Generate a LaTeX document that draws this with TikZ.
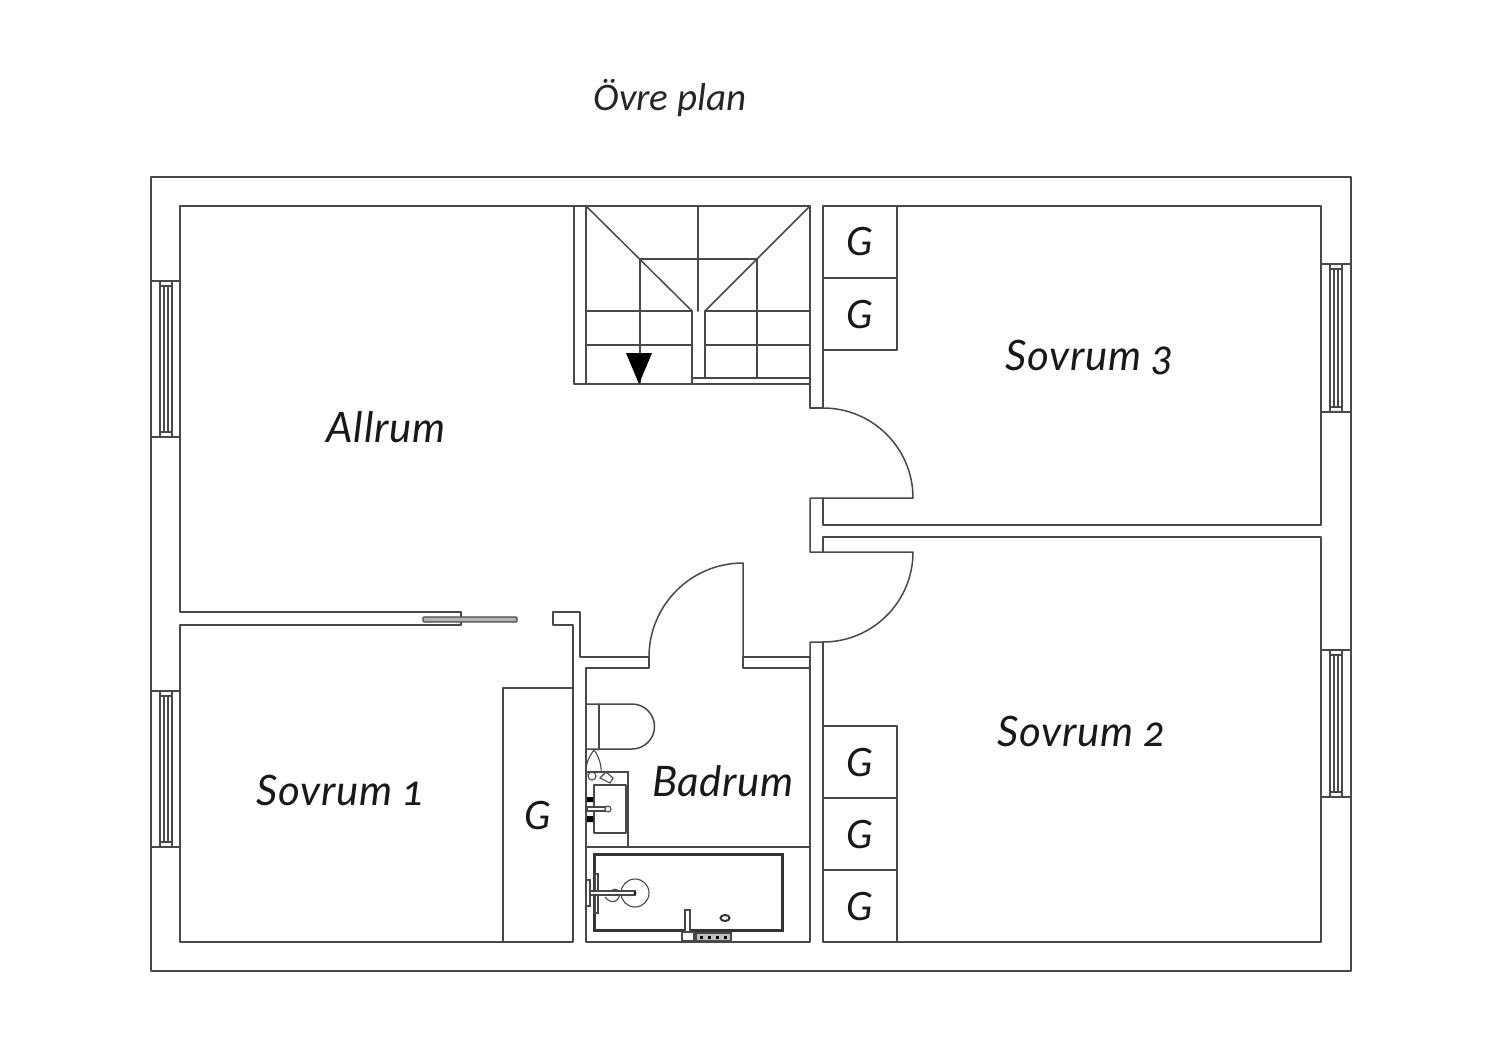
\documentclass[tikz,border=0pt]{standalone}
\usepackage{fontspec}
\setmainfont[Numbers=OldStyle,LetterSpace=1.5]{Lato}
\newfontfamily\titlefont{Carlito}
\definecolor{wall}{HTML}{484848}
\tikzset{
  wl/.style={draw=wall,line width=1.5pt,line cap=round,line join=round},
  thin/.style={draw=wall,line width=1.1pt},
  room/.style={font=\fontsize{42}{42}\selectfont\itshape,text=black!90,inner sep=0pt},
  closet/.style={font=\fontsize{39}{39}\selectfont\itshape,text=black!90,inner sep=0pt},
}
\newcommand{\winL}[2]{% left-type window, top y, bottom y
  \draw[wl] (151,#1) -- (180,#1) (151,#2) -- (180,#2);
  \draw[thin] (160,#1) rectangle (172,#2);
  \draw[thin] (160,#1+5) -- (172,#1+5) (160,#2-5) -- (172,#2-5);
  \draw[thin] (164,#1+5) -- (164,#2-5) (168,#1+5) -- (168,#2-5);
}
\newcommand{\winR}[2]{%
  \draw[wl] (1322,#1) -- (1351,#1) (1322,#2) -- (1351,#2);
  \draw[thin] (1330,#1) rectangle (1342,#2);
  \draw[thin] (1330,#1+5) -- (1342,#1+5) (1330,#2-5) -- (1342,#2-5);
  \draw[thin] (1334,#1+5) -- (1334,#2-5) (1338,#1+5) -- (1338,#2-5);
}
\begin{document}
\begin{tikzpicture}[x=1pt,y=-1pt]
\useasboundingbox (0,0) rectangle (1500,1060);
% outer
\draw[wl] (151,177) rectangle (1351,971);
% allrum outline
\draw[wl] (810,408) -- (810,206) -- (180,206) -- (180,612) -- (461,612) -- (461,625) -- (180,625) -- (180,942) -- (573,942) -- (573,625) -- (553,625) -- (553,612) -- (580,612) -- (580,657) -- (649,657) -- (649,668) -- (586,668) -- (586,942) -- (810,942) -- (810,657) -- (743,657) -- (743,668) -- (810,668);
% stairs
\draw[wl] (574,206) -- (574,384) -- (692,384) (586,206) -- (586,384);
\draw[wl] (692,384) -- (810,384) (692,378) -- (810,378) (692,311) -- (692,384);
\draw[wl] (705,311) -- (705,378);
\draw[wl] (586,206) -- (692,311) (810,206) -- (705,311);
\draw[wl] (640,259) -- (757,259) (698,206) -- (698,311);
\draw[wl] (640,259) -- (640,384) (757,259) -- (757,378);
\draw[wl] (586,311) -- (692,311) (705,311) -- (810,311);
\draw[wl] (586,345) -- (692,345) (705,345) -- (810,345);
\fill[black] (626,353) -- (652,353) -- (639,384) -- cycle;
% right rooms and doors
\draw[wl] (810,408) -- (823,408) -- (823,206) -- (1321,206) -- (1321,525) -- (823,525) -- (823,498);
\draw[wl] (823,408) arc[start angle=-90,end angle=0,radius=90] -- (810,498) -- (810,552) -- (913,552) arc[start angle=0,end angle=90,radius=90] -- (810,642) -- (810,657);
\draw[wl] (823,552) -- (823,537) -- (1321,537) -- (1321,942) -- (823,942) -- (823,642);
% bath door
\draw[wl] (743,657) -- (743,563) arc[start angle=-90,end angle=-180,radius=94];
% sliding door
\draw[draw=wall,line width=1.2pt,fill=black!30,rounded corners=1pt] (423,617) rectangle (517,622);
% closets
\draw[wl] (503,942) -- (503,688) -- (573,688);
\draw[wl] (823,278) -- (897,278) (823,350) -- (897,350) (897,206) -- (897,350);
\draw[wl] (823,726) -- (897,726) (823,798) -- (897,798) (823,870) -- (897,870) (897,726) -- (897,942);
% windows
\winL{281}{437}
\winL{691}{847}
\winR{264}{412}
\winR{650}{797}
% bathroom fittings
\draw[wl] (586,847) -- (810,847);
\draw[wl] (586,704) -- (632,704) arc[start angle=-90,end angle=90,radius=22.5] -- (586,749);
\draw[wl] (599,704) -- (599,749);
\draw[thin] (586,772) -- (628,772) -- (628,847);
\draw[wl,fill=white] (594,785) rectangle (626,833);
\fill[black] (587,797) rectangle (593,802) (587,816) rectangle (593,822);
\draw[thin,fill=white] (587,807) rectangle (606,811);
\draw[thin,fill=white] (608,809) circle[radius=3];
\draw[thin] (587,775) .. controls (584,765) and (590,755) .. (594,750) .. controls (598,755) and (602,765) .. (601,773);
\draw[thin] (592,776) circle[radius=4];
\draw[thin,fill=white] (600,778) -- (606,772) -- (613,778) -- (610,783) -- cycle;
\draw[line width=3pt,draw=black!80] (594,854) rectangle (782,930);
\draw[thin,fill=white] (595,874) rectangle (598,913);
\draw[thin] (635,893) circle[radius=14];
\draw[thin] (610,893) .. controls (612,888) and (618,888) .. (620,893) .. controls (620,900) and (612,906) .. (605,897);
\draw[thin,fill=white] (590,891) rectangle (635,895);
\fill[black] (635,893) circle[radius=1.5];
\draw[thin,fill=white] (586,880) rectangle (590,906);
\draw[thin,fill=white] (685,910) rectangle (690,932);
\draw[thin] (682,932) rectangle (694,941);
\draw[thin,fill=black!25] (696,933) rectangle (731,941);
\foreach \d in {700,708,716,724}{\fill[black] (\d,935.5) rectangle (\d+3,938.5);}
\draw[line width=2pt,draw=black!80] (725,918) ellipse[x radius=4.5,y radius=3];
% labels
\node[font=\fontsize{39}{39}\selectfont\titlefont\itshape,text=black!85,inner sep=0pt] (title) at (670,98) {Övre plan};
\node[room] (allrum) at (386,427) {Allrum};
\node[room] (s3) at (1090,358) {Sovrum 3};
\node[room] (s2) at (1082,731) {Sovrum 2};
\node[room] (s1) at (341,790) {Sovrum 1};
\node[room] (bad) at (723,781) {Badrum};
\foreach \n/\x/\y in {a/860/242,b/860/315,c/860/763,d/860/835,e/860/907,f/538/816}{
  \node[closet] (g\n) at (\x,\y) {G};
}
\end{tikzpicture}
\end{document}
